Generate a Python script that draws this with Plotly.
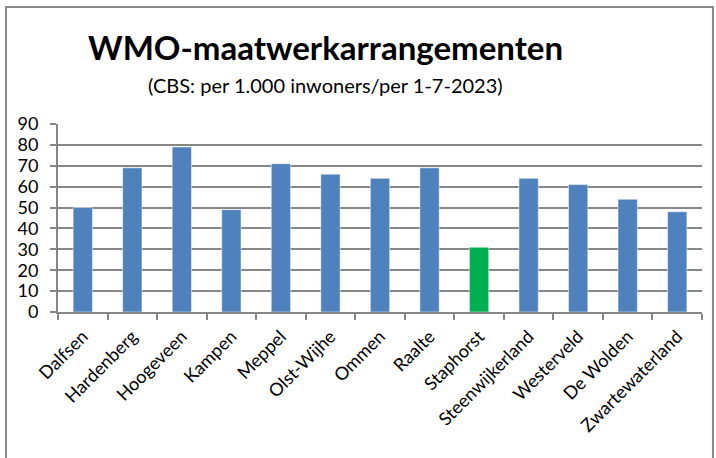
import plotly.graph_objects as go

categories = ["Dalfsen", "Hardenberg", "Hoogeveen", "Kampen", "Meppel", "Olst-Wijhe",
              "Ommen", "Raalte", "Staphorst", "Steenwijkerland", "Westerveld",
              "De Wolden", "Zwartewaterland"]
values = [50, 69, 79, 49, 71, 66, 64, 69, 31, 64, 61, 54, 48]
highlight = "Staphorst"
y_ticks = [0, 10, 20, 30, 40, 50, 60, 70, 80, 90]

blue = "#4F81BD"
green = "#00B050"
colors = [green if c == highlight else blue for c in categories]

fig = go.Figure(go.Bar(
    x=categories, y=values, marker_color=colors,
    marker_line_color="rgba(255,255,255,0.5)", marker_line_width=1,
    width=0.39,
))

font = "Lato"
fig.update_layout(
    width=716, height=458,
    margin=dict(l=58, r=14, t=124, b=146, autoexpand=False),
    paper_bgcolor="white", plot_bgcolor="white",
    showlegend=False,
    font=dict(family=font, color="#000000"),
    bargap=0.61,
)
fig.update_xaxes(
    automargin=False,
    showgrid=False, showline=True, linecolor="#878787", linewidth=2,
    ticks="outside", tickson="boundaries", ticklen=6, tickcolor="#878787", tickwidth=2,
    ticklabelstandoff=5,
    tickangle=-45, tickfont=dict(size=18, family=font, color="#000"),
)
fig.update_yaxes(
    automargin=False,
    range=[0, 90], tickvals=y_ticks, showgrid=True, gridcolor="#878787", gridwidth=2,
    showline=True, linecolor="#878787", linewidth=2,
    ticks="outside", ticklen=6, tickcolor="#878787", tickwidth=2, ticklabelstandoff=8,
    tickfont=dict(size=18, family=font, color="#000"), zeroline=False,
)
fig.add_shape(type="rect", xref="paper", yref="paper",
              x0=-0.0807, x1=1.017, y0=-1.0, y1=1.622,
              line=dict(color="#888888", width=2), fillcolor="rgba(0,0,0,0)", layer="below")
fig.add_annotation(text="<b>WMO-maatwerkarrangementen</b>", xref="paper", yref="paper",
                   x=0.415, y=1.41, showarrow=False, xanchor="center", yanchor="middle",
                   font=dict(size=33, family=font, color="#000"))
fig.add_annotation(text="(CBS: per 1.000 inwoners/per 1-7-2023)", xref="paper", yref="paper",
                   x=0.415, y=1.21, showarrow=False, xanchor="center", yanchor="middle",
                   font=dict(size=20, family=font, color="#000"))

fig.write_html("out.html", config={"displayModeBar": False},
               post_script="document.body.style.margin='0px';")
